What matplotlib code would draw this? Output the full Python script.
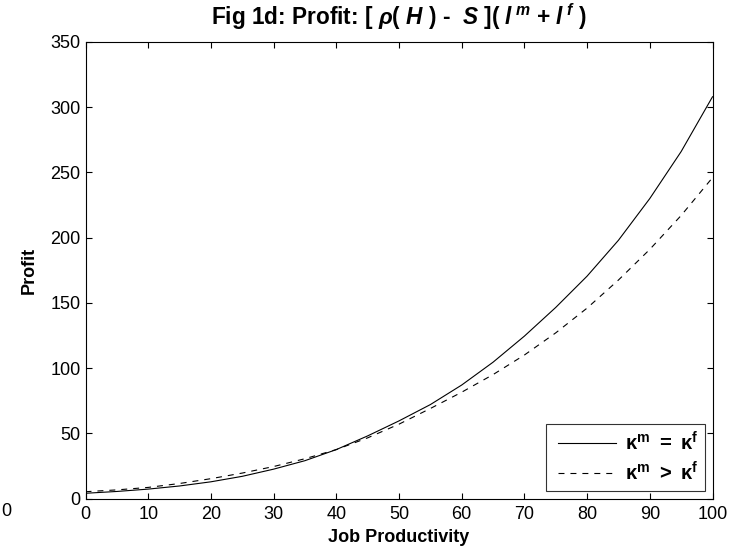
import matplotlib
matplotlib.use("Agg")
import matplotlib.pyplot as plt
from matplotlib.lines import Line2D
from matplotlib.legend_handler import HandlerLine2D

plt.rcParams['font.family'] = ['Liberation Sans', 'DejaVu Sans']
plt.rcParams['mathtext.fontset'] = 'custom'
plt.rcParams['mathtext.rm'] = 'Liberation Sans:bold'
plt.rcParams['mathtext.bf'] = 'Liberation Sans:bold'
plt.rcParams['mathtext.it'] = 'Liberation Sans:bold:italic'
plt.rcParams['lines.scale_dashes'] = False

# Data
job_productivity = [0, 5, 10, 15, 20, 25, 30, 35, 40, 45, 50, 55, 60, 65, 70, 75, 80, 85, 90, 95, 100]
profit_equal = [4, 5.4, 7.2, 9.6, 12.8, 17, 22.5, 29, 37.5, 48, 59.5, 72, 87, 104.5, 124.5, 146.5, 170.5, 198, 230, 266, 308]
profit_greater = [5.2, 6.6, 8.5, 11.5, 15.2, 19.5, 24.5, 30.5, 37.5, 46.5, 57, 69, 81.5, 95, 110, 127, 146, 167.5, 191, 217, 246]
xticks = [0, 10, 20, 30, 40, 50, 60, 70, 80, 90, 100]
yticks = [0, 50, 100, 150, 200, 250, 300, 350]


class InsetLine(HandlerLine2D):
    """Legend line that starts a little inside its handle box."""
    def __init__(self, inset=3.6, **kw):
        super().__init__(**kw)
        self._inset = inset

    def create_artists(self, legend, orig_handle, xdescent, ydescent, width, height, fontsize, trans):
        arts = super().create_artists(legend, orig_handle, xdescent, ydescent, width, height, fontsize, trans)
        for a in arts:
            if isinstance(a, Line2D):
                xd = list(a.get_xdata())
                if len(xd) >= 2:
                    a.set_xdata([xd[0] + self._inset, xd[-1]])
                    a.set_ydata([a.get_ydata()[0], a.get_ydata()[-1]])
        return arts


W, H = 750, 548
fig = plt.figure(figsize=(W / 100, H / 100), dpi=100)
ax = fig.add_axes([85.5 / W, 1 - 498.5 / H, (712.5 - 85.5) / W, (498.5 - 42) / H])

l1, = ax.plot(job_productivity, profit_equal, color='black', lw=0.8, label=r'$\mathbf{\kappa^m\ =\ \kappa^f}$')
l2, = ax.plot(job_productivity, profit_greater, color='black', lw=0.8, dashes=(4.3, 4.3),
              label=r'$\mathbf{\kappa^m\ >\ \kappa^f}$')

ax.set_xlim(0, 100)
ax.set_ylim(0, 350)
ax.set_xticks(xticks)
ax.set_yticks(yticks)
ax.tick_params(direction='in', length=4.5, width=0.8, labelsize=13, top=True, right=True)
ax.tick_params(axis='x', pad=5.5)
ax.tick_params(axis='y', pad=3.5)
for s in ax.spines.values():
    s.set_linewidth(0.8)

ax.set_xlabel('Job Productivity', fontsize=13, fontweight='bold', labelpad=4)
ax.set_ylabel('Profit', fontsize=13, fontweight='bold', labelpad=9)
ax.set_title(r'Fig 1d: Profit: [ $\it{\rho}$( $\it{H}$ ) -  $\it{S}$ ]( $\it{l}^{\,\it{m}}$ + $\it{l}^{\,\it{f}}$ )',
             fontsize=16.3, fontweight='bold', pad=12)

leg = ax.legend(loc='lower right', fontsize=14.5, frameon=True, fancybox=False,
                edgecolor='black', handlelength=3.13, borderaxespad=0.35,
                labelspacing=0.35, borderpad=0.35, handletextpad=0.45,
                handler_map={l1: InsetLine(), l2: InsetLine()})
leg.get_frame().set_linewidth(0.8)

fig.text(6 / W, 1 - 511 / H, '0', fontsize=13, ha='center', va='center')

fig.savefig('out.png', dpi=100)
